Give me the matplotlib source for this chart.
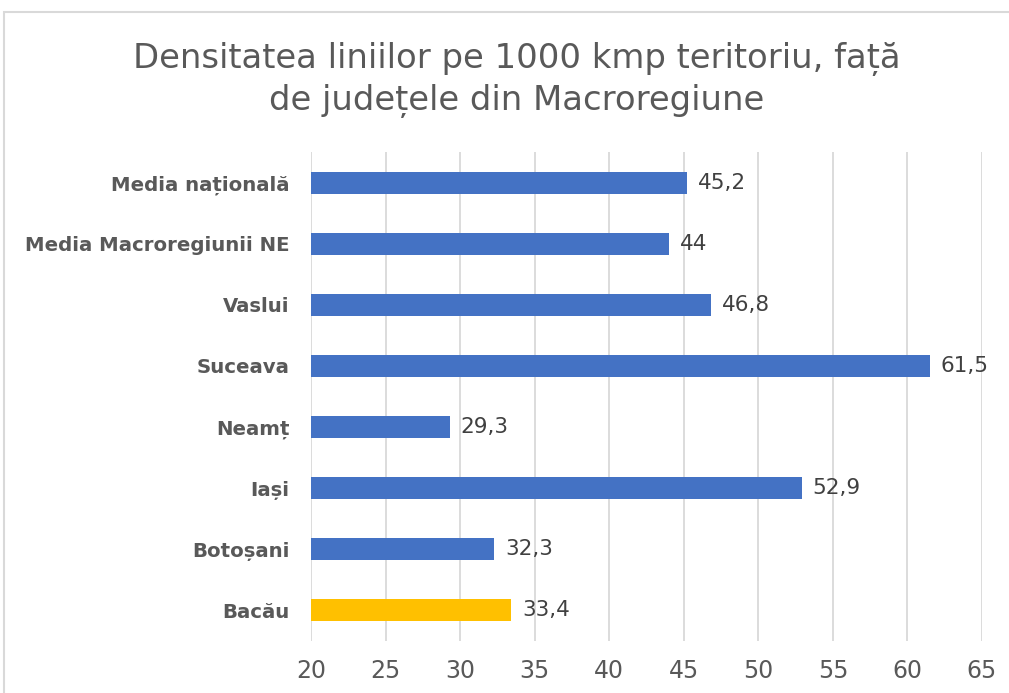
import matplotlib.pyplot as plt
from matplotlib.patches import Rectangle

judete = ['Bacău', 'Botoșani', 'Iași', 'Neamț', 'Suceava', 'Vaslui',
          'Media Macroregiunii NE', 'Media națională']
densitate = [33.4, 32.3, 52.9, 29.3, 61.5, 46.8, 44, 45.2]
culori = ['#ffc000'] + ['#4472c4'] * 7
ticks_x = [20, 25, 30, 35, 40, 45, 50, 55, 60, 65]

fig = plt.figure(figsize=(10.09, 6.93), dpi=100)
fig.patches.append(Rectangle((4 / 1009, -0.01), 1.1, 1.01 - 12 / 693,
                             transform=fig.transFigure, fill=False,
                             edgecolor='#d9d9d9', linewidth=1.5))

ax = fig.add_axes([311 / 1009, 1 - 641 / 693, 671 / 1009, 489 / 693])
y = range(len(judete))
ax.barh(y, densitate, left=0, height=0.36, color=culori, zorder=3)
ax.set_xlim(20, 65)
ax.set_ylim(-0.5, 7.5)

for i, v in enumerate(densitate):
    txt = f'{v:g}'.replace('.', ',')
    ax.text(v + 0.75, i, txt, va='center', ha='left', fontsize=15.5,
            color='#404040')

ax.set_yticks(list(y))
ax.set_yticklabels(judete, fontsize=14.2, fontweight='bold', color='#595959')
ax.set_xticks(ticks_x)
ax.set_xticklabels([str(t) for t in ticks_x], fontsize=17, color='#595959')
ax.tick_params(axis='y', length=0, pad=15.5)
ax.tick_params(axis='x', length=0, pad=13)
ax.grid(axis='x', color='#d9d9d9', linewidth=1.3, zorder=0)
for s in ax.spines.values():
    s.set_visible(False)

fig.text(517 / 1009, 1 - 80 / 693,
         'Densitatea liniilor pe 1000 kmp teritoriu, față\nde județele din Macroregiune',
         ha='center', va='center', fontsize=24.4, color='#595959',
         linespacing=1.28)

fig.savefig('out.png', dpi=100)
